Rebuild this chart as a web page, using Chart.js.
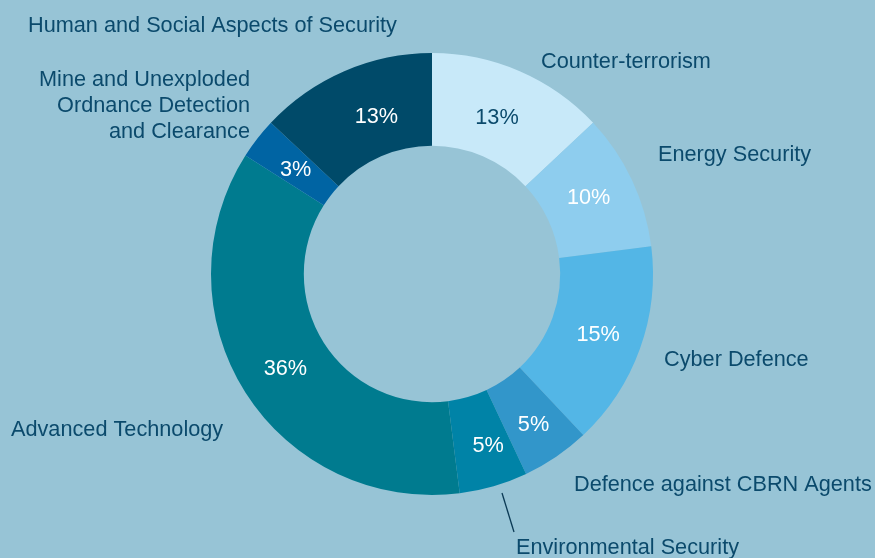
<!DOCTYPE html>
<html>
<head>
<meta charset="utf-8">
<script src="https://cdn.jsdelivr.net/npm/chart.js"></script>
<style>
  html, body { margin: 0; padding: 0; background: #97c4d6; }
  #wrap { width: 875px; height: 558px; position: relative; }
</style>
</head>
<body>
<div id="wrap"><canvas id="donut" width="875" height="558"></canvas></div>
<script>
// dati
const categories = [
  'Counter-terrorism',
  'Energy Security',
  'Cyber Defence',
  'Defence against CBRN Agents',
  'Environmental Security',
  'Advanced Technology',
  'Mine and Unexploded Ordnance Detection and Clearance',
  'Human and Social Aspects of Security'
];
const shares = [13, 10, 15, 5, 5, 36, 3, 13];
const sliceColors = ['#c8e9f9', '#8ecdee', '#53b6e6', '#3296ca', '#0083a7', '#007b8f', '#0064a3', '#004a69'];
const pctColors = ['#0b4a6c', '#fff', '#fff', '#fff', '#fff', '#fff', '#fff', '#fff'];

// etichette esterne: righe, ancoraggio rispetto al centro (baseline), allineamento
const outerLabels = [
  { lines: ['Counter-terrorism'], dx: 109, dy: -206, align: 'left' },
  { lines: ['Energy Security'], dx: 226, dy: -113, align: 'left' },
  { lines: ['Cyber Defence'], dx: 232, dy: 92, align: 'left' },
  { lines: ['Defence against CBRN Agents'], dx: 142, dy: 217, align: 'left' },
  { lines: ['Environmental Security'], dx: 84, dy: 280, align: 'left', leader: [70, 219, 82, 258] },
  { lines: ['Advanced Technology'], dx: -421, dy: 162, align: 'left' },
  { lines: ['Mine and Unexploded', 'Ordnance Detection', 'and Clearance'], dx: -182, dy: -188, align: 'right' },
  { lines: ['Human and Social Aspects of Security'], dx: -404, dy: -242, align: 'left' }
];
// piccoli spostamenti angolari (gradi) e radiali (px) per le percentuali
const pctAngleNudge = [-1, -1, 0, 0, -2, 0, 0, 4];
const pctRadiusNudge = [-4, 0, 2, 6, 5, -1, -2, -7];

const FONT = '21.7px "Liberation Sans", Arial, sans-serif';
const TEXT_DARK = '#0b4a6c';

const labelPlugin = {
  id: 'donutLabels',
  afterDatasetsDraw(chart) {
    const ctx = chart.ctx;
    const arcs = chart.getDatasetMeta(0).data;
    if (!arcs.length) return;
    const cx = arcs[0].x, cy = arcs[0].y;
    ctx.save();
    ctx.font = FONT;
    ctx.textBaseline = 'alphabetic';

    // percentuali dentro le fette
    arcs.forEach((arc, i) => {
      const p = arc.getProps(['startAngle', 'endAngle', 'innerRadius', 'outerRadius']);
      const a = (p.startAngle + p.endAngle) / 2 + pctAngleNudge[i] * Math.PI / 180;
      const r = (p.innerRadius + p.outerRadius) / 2 + pctRadiusNudge[i];
      const x = cx + Math.cos(a) * r;
      const y = cy + Math.sin(a) * r;
      ctx.fillStyle = pctColors[i];
      ctx.textAlign = 'center';
      ctx.fillText(shares[i] + '%', x, y + 7.5);
    });

    // nomi delle categorie
    ctx.fillStyle = TEXT_DARK;
    outerLabels.forEach(l => {
      ctx.textAlign = l.align;
      l.lines.forEach((t, k) => ctx.fillText(t, cx + l.dx, cy + l.dy + k * 26));
      if (l.leader) {
        ctx.strokeStyle = '#0b3a55';
        ctx.lineWidth = 1.3;
        ctx.beginPath();
        ctx.moveTo(cx + l.leader[0], cy + l.leader[1]);
        ctx.lineTo(cx + l.leader[2], cy + l.leader[3]);
        ctx.stroke();
      }
    });
    ctx.restore();
  }
};

new Chart(document.getElementById('donut').getContext('2d'), {
  type: 'doughnut',
  data: {
    labels: categories,
    datasets: [{
      data: shares,
      backgroundColor: sliceColors,
      borderWidth: 0,
      hoverOffset: 0
    }]
  },
  options: {
    responsive: false,
    animation: false,
    cutout: '58%',
    layout: { padding: { top: 53, bottom: 63, left: 0, right: 11 } },
    plugins: {
      legend: { display: false },
      tooltip: { enabled: false }
    }
  },
  plugins: [labelPlugin]
});
</script>
</body>
</html>
